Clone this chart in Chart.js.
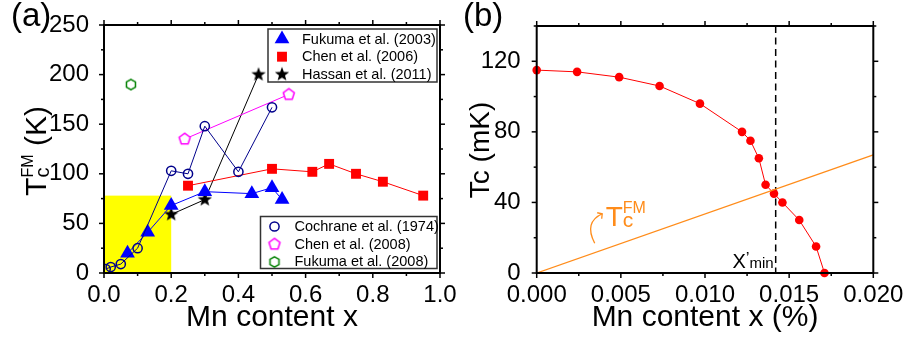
<!DOCTYPE html>
<html>
<head>
<meta charset="utf-8">
<script src="https://cdn.jsdelivr.net/npm/chart.js@4.4.1/dist/chart.umd.min.js"></script>
<style>
  html, body { margin: 0; padding: 0; background: #fff; }
  #wrap { position: relative; width: 905px; height: 342px; }
  canvas { position: absolute; top: 0; }
  #chartA { left: 0; }
  #chartB { left: 460px; }
</style>
</head>
<body>
<div id="wrap">
  <canvas id="chartA" width="460" height="342"></canvas>
  <canvas id="chartB" width="445" height="342"></canvas>
</div>
<script>
// --- DATA: panel (a), T_c^FM (K) vs Mn content x ---
const fukuma03X = [0.07, 0.13, 0.2, 0.3, 0.44, 0.5, 0.53];
const fukuma03Y = [20, 41, 68, 82, 80, 86, 74];
const chen06X = [0.25, 0.5, 0.62, 0.67, 0.75, 0.83, 0.95];
const chen06Y = [88, 105, 102, 110, 100, 92, 78];
const hassanX = [0.2, 0.3, 0.46];
const hassanY = [59, 74, 200];
const cochraneX = [0.005, 0.02, 0.05, 0.1, 0.2, 0.25, 0.3, 0.4, 0.5];
const cochraneY = [4, 6, 9, 25, 103, 100, 148, 102, 167];
const chen08X = [0.24, 0.55];
const chen08Y = [135, 180];
const fukuma08X = [0.08];
const fukuma08Y = [190];
const shadedX = [0, 0.2];
const shadedY = [0, 78];

const ticksAX = [0, 0.2, 0.4, 0.6, 0.8, 1.0];
const ticksAY = [0, 50, 100, 150, 200, 250];

// --- DATA: panel (b), Tc (mK) vs Mn content x (%) ---
const mnPct = [0, 0.0024, 0.0049, 0.0073, 0.0097, 0.0122, 0.0127, 0.0132, 0.0136, 0.0141, 0.0146, 0.0156, 0.0166, 0.0171];
const tcMilliK = [115, 114, 111, 106, 96, 80, 75, 65, 50, 45, 40, 30, 15, 0];
const tcFmX = [0, 0.020];
const tcFmY = [0, 67];
const xMinPrime = 0.0142;

const ticksBX = [0, 0.005, 0.010, 0.015, 0.020];
const ticksBY = [0, 40, 80, 120];

const FONT = '"Liberation Sans", Arial, sans-serif';
Chart.defaults.font.family = FONT;
Chart.defaults.color = '#000';

function pts(xs, ys) { return xs.map((x, i) => ({ x, y: ys[i] })); }

// polygon / star markers as small canvases (Chart.js has no filled star, pentagon, hexagon)
function makeMarker(sides, r, stroke, fill, lw, inner) {
  const s = 2 * Math.ceil(r + lw + 1);
  const c = document.createElement('canvas');
  c.width = c.height = s;
  const g = c.getContext('2d');
  g.translate(s / 2, s / 2);
  g.beginPath();
  const n = inner ? sides * 2 : sides;
  for (let i = 0; i < n; i++) {
    const rr = inner && i % 2 ? r * inner : r;
    const a = -Math.PI / 2 + i * 2 * Math.PI / n;
    g.lineTo(rr * Math.cos(a), rr * Math.sin(a));
  }
  g.closePath();
  if (fill) { g.fillStyle = fill; g.fill(); }
  if (stroke) { g.strokeStyle = stroke; g.lineWidth = lw; g.stroke(); }
  return c;
}
const starMarker = makeMarker(5, 7.5, null, '#000', 0, 0.42);
const pentaMarker = makeMarker(5, 5.8, '#ff00ff', '#fff', 1.5);
const hexMarker = makeMarker(6, 5.2, '#008000', '#fff', 1.5);

function setTicks(values) {
  return scale => { scale.ticks = values.map(v => ({ value: v })); };
}

// box frame + outward ticks on all four sides
const frameTicks = {
  id: 'frameTicks',
  afterDraw(chart, args, opts) {
    const { ctx, chartArea: a, scales: { x, y } } = chart;
    ctx.save();
    ctx.strokeStyle = '#000';
    const line = (x1, y1, x2, y2) => { ctx.beginPath(); ctx.moveTo(x1, y1); ctx.lineTo(x2, y2); ctx.stroke(); };
    ctx.lineWidth = 1.5;
    for (let i = 0; ; i++) {
      const v = x.min + i * opts.xStep;
      if (v > x.max + 1e-9) break;
      const p = x.getPixelForValue(v);
      const len = i % opts.xEvery === 0 ? 5 : 3;
      line(p, a.bottom, p, a.bottom + len);
      line(p, a.top, p, a.top - len);
    }
    for (let i = 0; ; i++) {
      const v = y.min + i * opts.yStep;
      if (v > y.max + 1e-9) break;
      const p = y.getPixelForValue(v);
      const len = i % opts.yEvery === 0 ? 5 : 3;
      line(a.left, p, a.left - len, p);
      line(a.right, p, a.right + len, p);
    }
    ctx.lineWidth = 2;
    ctx.strokeRect(a.left, a.top, a.right - a.left, a.bottom - a.top);
    ctx.restore();
  }
};

// runs of text along one baseline: [{t, size, dy, stack}]
function drawRuns(ctx, x, y, runs) {
  let cx = x;
  for (let i = 0; i < runs.length; i++) {
    const r = runs[i];
    ctx.font = r.size + 'px ' + FONT;
    ctx.fillText(r.t, cx, y + (r.dy || 0));
    const w = ctx.measureText(r.t).width;
    if (r.stack) {
      const n = runs[++i];
      ctx.font = n.size + 'px ' + FONT;
      ctx.fillText(n.t, cx, y + (n.dy || 0));
      cx += Math.max(w, ctx.measureText(n.t).width);
    } else {
      cx += w;
    }
  }
  return cx - x;
}
function runsWidth(ctx, runs) {
  let w = 0;
  for (let i = 0; i < runs.length; i++) {
    ctx.font = runs[i].size + 'px ' + FONT;
    const a = ctx.measureText(runs[i].t).width;
    if (runs[i].stack) {
      ctx.font = runs[i + 1].size + 'px ' + FONT;
      w += Math.max(a, ctx.measureText(runs[i + 1].t).width);
      i++;
    } else w += a;
  }
  return w;
}

// --- PANEL (a) ---
const shadedBox = {
  id: 'shadedBox',
  beforeDatasetsDraw(chart) {
    const { ctx, scales: { x, y } } = chart;
    const x0 = x.getPixelForValue(shadedX[0]), x1 = x.getPixelForValue(shadedX[1]);
    const y0 = y.getPixelForValue(shadedY[0]), y1 = y.getPixelForValue(shadedY[1]);
    ctx.save();
    ctx.fillStyle = '#ffff00';
    ctx.fillRect(x0, y1, x1 - x0, y0 - y1);
    ctx.restore();
  }
};

const legendTop = [
  { label: 'Fukuma et al. (2003)', ds: 4 },
  { label: 'Chen et al. (2006)', ds: 3 },
  { label: 'Hassan et al. (2011)', ds: 5 }
];
const legendBottom = [
  { label: 'Cochrane et al. (1974)', ds: 1 },
  { label: 'Chen et al. (2008)', ds: 2 },
  { label: 'Fukuma et al. (2008)', ds: 0 }
];

function drawLegendBox(chart, items, left, top, w, h) {
  const ctx = chart.ctx;
  ctx.save();
  ctx.fillStyle = '#fff';
  ctx.fillRect(left, top, w, h);
  ctx.strokeStyle = '#333';
  ctx.lineWidth = 1.5;
  ctx.strokeRect(left, top, w, h);
  const rowH = 17.7;
  items.forEach((it, i) => {
    const cy = top + 10 + i * rowH;
    const ds = chart.data.datasets[it.ds];
    ctx.fillStyle = ds.pointBackgroundColor || '#000';
    ctx.strokeStyle = ds.pointBorderColor || ds.borderColor || '#000';
    ctx.lineWidth = ds.pointBorderWidth || 0;
    Chart.helpers.drawPoint(ctx, {
      pointStyle: ds.pointStyle,
      radius: ds.pointRadius,
      borderWidth: ds.pointBorderWidth || 0,
      rotation: 0
    }, left + 14, cy);
    ctx.fillStyle = '#000';
    ctx.font = '14.5px ' + FONT;
    ctx.textBaseline = 'middle';
    ctx.textAlign = 'left';
    ctx.fillText(it.label, left + 34, cy + 0.5);
  });
  ctx.restore();
}

const panelAText = {
  id: 'panelAText',
  afterDraw(chart) {
    const { ctx, chartArea: a } = chart;
    drawLegendBox(chart, legendTop, a.right - 172, a.top + 4, 169, 53);
    drawLegendBox(chart, legendBottom, a.right - 179.5, a.bottom - 56.5, 176.5, 52);

    ctx.save();
    ctx.fillStyle = '#000';
    ctx.textBaseline = 'alphabetic';
    ctx.textAlign = 'left';
    ctx.font = '33px ' + FONT;
    ctx.fillText('(a)', 11, 26);
    // x title
    ctx.font = '30px ' + FONT;
    ctx.textAlign = 'center';
    ctx.fillText('Mn content x', (a.left + a.right) / 2, 326);
    // y title T_c^FM (K)
    const runs = [
      { t: 'T', size: 30, stack: false },
      { t: 'c', size: 20, dy: 3, stack: true },
      { t: 'FM', size: 16, dy: -13 },
      { t: ' (K)', size: 30 }
    ];
    ctx.textAlign = 'left';
    ctx.translate(46, 151);
    ctx.rotate(-Math.PI / 2);
    const w = runsWidth(ctx, runs);
    drawRuns(ctx, -w / 2, 0, runs);
    ctx.restore();
  }
};

const dsA = [
  {
    label: 'Fukuma et al. (2008)', data: pts(fukuma08X, fukuma08Y),
    pointStyle: hexMarker, pointRadius: 5, showLine: false
  },
  {
    label: 'Cochrane et al. (1974)', data: pts(cochraneX, cochraneY),
    showLine: true, borderColor: '#00008b', borderWidth: 1,
    pointStyle: 'circle', pointRadius: 4.6, pointBorderWidth: 1.5,
    pointBorderColor: '#00008b', pointBackgroundColor: 'rgba(0,0,0,0)'
  },
  {
    label: 'Chen et al. (2008)', data: pts(chen08X, chen08Y),
    showLine: true, borderColor: '#ff00ff', borderWidth: 1,
    pointStyle: pentaMarker, pointRadius: 6
  },
  {
    label: 'Chen et al. (2006)', data: pts(chen06X, chen06Y),
    showLine: true, borderColor: '#ff0000', borderWidth: 1,
    pointStyle: 'rect', pointRadius: 7, pointBorderWidth: 0,
    pointBackgroundColor: '#ff0000'
  },
  {
    label: 'Fukuma et al. (2003)', data: pts(fukuma03X, fukuma03Y),
    showLine: true, borderColor: '#0000ff', borderWidth: 1,
    pointStyle: 'triangle', pointRadius: 8.5, pointBorderWidth: 0,
    pointBackgroundColor: '#0000ff'
  },
  {
    label: 'Hassan et al. (2011)', data: pts(hassanX, hassanY),
    showLine: true, borderColor: '#000', borderWidth: 1,
    pointStyle: starMarker, pointRadius: 7
  }
];

new Chart(document.getElementById('chartA'), {
  type: 'scatter',
  data: { datasets: dsA },
  options: {
    responsive: false,
    animation: false,
    events: [],
    layout: { padding: { left: 0, right: 20, top: 25, bottom: 0 } },
    elements: { line: { tension: 0 } },
    plugins: {
      legend: { display: false },
      tooltip: { enabled: false },
      frameTicks: { xStep: 0.1, xEvery: 2, yStep: 25, yEvery: 2 }
    },
    scales: {
      x: {
        type: 'linear', min: 0, max: 1,
        afterBuildTicks: setTicks(ticksAX),
        afterFit: s => { s.height = 69; },
        grid: { display: false }, border: { display: false },
        ticks: { font: { size: 24 }, color: '#000', padding: 0, maxRotation: 0,
          callback: v => v.toFixed(1) }
      },
      y: {
        type: 'linear', min: 0, max: 250,
        afterBuildTicks: setTicks(ticksAY),
        afterFit: s => { s.width = 104; },
        grid: { display: false }, border: { display: false },
        ticks: { font: { size: 24 }, color: '#000', padding: 7 }
      }
    }
  },
  plugins: [shadedBox, frameTicks, panelAText]
});

// --- PANEL (b) ---
const panelBText = {
  id: 'panelBText',
  beforeDatasetsDraw(chart) {
    const { ctx, chartArea: a, scales: { x } } = chart;
    const px = x.getPixelForValue(xMinPrime);
    ctx.save();
    ctx.strokeStyle = '#000';
    ctx.lineWidth = 1.5;
    ctx.setLineDash([7, 4.5]);
    ctx.beginPath();
    ctx.moveTo(px, a.top);
    ctx.lineTo(px, a.bottom);
    ctx.stroke();
    ctx.restore();
  },
  afterDraw(chart) {
    const { ctx, chartArea: a, scales: { x, y } } = chart;
    ctx.save();
    ctx.fillStyle = '#000';
    ctx.textBaseline = 'alphabetic';
    ctx.textAlign = 'left';
    ctx.font = '33px ' + FONT;
    ctx.fillText('(b)', 3, 26);
    ctx.font = '30px ' + FONT;
    ctx.textAlign = 'center';
    ctx.fillText('Mn content x (%)', (a.left + a.right) / 2, 326);

    // X'min next to the dashed line
    const px = x.getPixelForValue(xMinPrime);
    const runs = [{ t: 'X', size: 20 }, { t: '\u2019', size: 17, dy: -4 }, { t: 'min', size: 15 }];
    const w = runsWidth(ctx, runs);
    ctx.textAlign = 'left';
    drawRuns(ctx, px - 2 - w, a.bottom - 5, runs);

    // orange T_c^FM label with curved arrow
    ctx.fillStyle = '#ff8c1a';
    ctx.strokeStyle = '#ff8c1a';
    const lx = x.getPixelForValue(0.0041), ly = y.getPixelForValue(26.5);
    drawRuns(ctx, lx, ly, [
      { t: 'T', size: 28, stack: false },
      { t: 'c', size: 21, dy: 1, stack: true },
      { t: 'FM', size: 16, dy: -13 }
    ]);
    const sx = lx - 11, sy = ly + 17;
    const ex = lx - 3.5, ey = ly - 12.5;
    ctx.lineWidth = 1.3;
    ctx.beginPath();
    ctx.moveTo(sx, sy);
    ctx.quadraticCurveTo(lx - 22, ly - 4, ex, ey);
    ctx.stroke();
    ctx.beginPath();
    ctx.moveTo(ex - 5, ey - 1);
    ctx.lineTo(ex, ey);
    ctx.lineTo(ex - 0.5, ey + 5);
    ctx.stroke();

    // y title
    ctx.fillStyle = '#000';
    ctx.font = '28px ' + FONT;
    ctx.textAlign = 'center';
    ctx.translate(29, 150);
    ctx.rotate(-Math.PI / 2);
    ctx.fillText('Tc (mK)', 0, 0);
    ctx.restore();
  }
};

new Chart(document.getElementById('chartB'), {
  type: 'scatter',
  data: {
    datasets: [
      {
        label: 'Tc FM', data: pts(tcFmX, tcFmY),
        showLine: true, borderColor: '#ff8c1a', borderWidth: 1.3,
        pointRadius: 0
      },
      {
        label: 'Tc', data: pts(mnPct, tcMilliK), clip: false,
        showLine: true, borderColor: '#ff0000', borderWidth: 1,
        pointStyle: 'circle', pointRadius: 4.3, pointBorderWidth: 0,
        pointBackgroundColor: '#ff0000'
      }
    ]
  },
  options: {
    responsive: false,
    animation: false,
    events: [],
    layout: { padding: { left: 0, right: 31.7, top: 26, bottom: 0 } },
    elements: { line: { tension: 0 } },
    plugins: {
      legend: { display: false },
      tooltip: { enabled: false },
      frameTicks: { xStep: 0.0025, xEvery: 2, yStep: 20, yEvery: 2 }
    },
    scales: {
      x: {
        type: 'linear', min: 0, max: 0.02,
        afterBuildTicks: setTicks(ticksBX),
        afterFit: s => { s.height = 69; },
        grid: { display: false }, border: { display: false },
        ticks: { font: { size: 24 }, color: '#000', padding: 0, maxRotation: 0,
          callback: v => v.toFixed(3) }
      },
      y: {
        type: 'linear', min: 0, max: 140,
        afterBuildTicks: setTicks(ticksBY),
        afterFit: s => { s.width = 76.7; },
        grid: { display: false }, border: { display: false },
        ticks: { font: { size: 24 }, color: '#000', padding: 8 }
      }
    }
  },
  plugins: [frameTicks, panelBText]
});
</script>
</body>
</html>
